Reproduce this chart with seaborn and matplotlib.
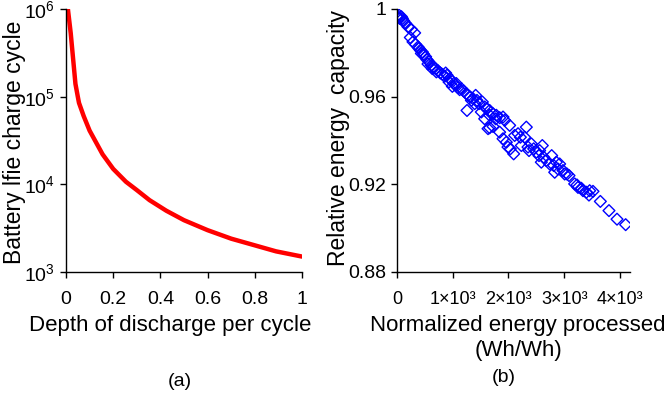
import numpy as np
import pandas as pd
import seaborn as sns
import matplotlib.pyplot as plt

# (a) cycle life vs depth of discharge
dod = [0.008, 0.02, 0.04, 0.05, 0.055, 0.075, 0.1, 0.155, 0.2, 0.254, 0.3, 0.354,
       0.425, 0.5, 0.6, 0.7, 0.79, 0.89, 1.0]
cycles = [1.0e6, 5.3e5, 1.4e5, 1.0e5, 8.5e4, 6.0e4, 4.1e4, 2.2e4, 1.5e4, 1.07e4, 8.6e3, 6.6e3,
          5.0e3, 3.9e3, 3.0e3, 2.4e3, 2.05e3, 1.72e3, 1.5e3]

# (b) relative capacity vs normalized energy processed
energy = [5, 10, 36, 78, 96, 120, 155, 197, 257, 317, 239, 287, 335, 377, 419, 454, 478, 514,
          538, 574, 616, 646, 694, 736, 777, 813, 855, 897, 945, 933, 975, 1017, 1052, 1094,
          1124, 1154, 1196, 1244, 1274, 1316, 1363, 1411, 1435, 1471, 1531, 1573, 1615, 1662,
          1722, 1782, 1842, 1902, 1932, 1256, 1513, 1573, 1633, 1662, 1722, 1842, 1902, 1961,
          1991, 2033, 2093, 2021, 2171, 2111, 2213, 2320, 2290, 2350, 2410, 2452, 2500, 2559,
          2607, 2547, 2631, 2679, 2739, 2775, 2811, 2829, 2858, 2918, 2888, 2978, 3050, 3086,
          3187, 3229, 3307, 3337, 3397, 3444, 3516, 3648, 3803, 3947, 4102,
          48, 138, 395, 437, 556, 634, 706, 873, 993, 1064, 1334, 1393, 1662, 1770, 2231, 2368,
          2589, 3008, 3247, 3456]
capacity = [0.9962, 0.9968, 0.9972, 0.9965, 0.9957, 0.9946, 0.9934, 0.9919, 0.9907, 0.9891,
            0.9870, 0.9850, 0.9838, 0.9827, 0.9812, 0.9804, 0.9794, 0.9782, 0.9769, 0.9759,
            0.9743, 0.9736, 0.9728, 0.9718, 0.9708, 0.9702, 0.9693, 0.9698, 0.9682, 0.9667,
            0.9675, 0.9660, 0.9652, 0.9641, 0.9632, 0.9637, 0.9626, 0.9614, 0.9606, 0.9598,
            0.9591, 0.9606, 0.9583, 0.9568, 0.9576, 0.9553, 0.9545, 0.9537, 0.9522, 0.9515,
            0.9504, 0.9507, 0.9492, 0.9537, 0.9530, 0.9499, 0.9454, 0.9458, 0.9464, 0.9438,
            0.9408, 0.9392, 0.9370, 0.9362, 0.9339, 0.9469, 0.9431, 0.9423, 0.9415, 0.9461,
            0.9415, 0.9370, 0.9385, 0.9362, 0.9347, 0.9354, 0.9377, 0.9331, 0.9324, 0.9309,
            0.9293, 0.9331, 0.9286, 0.9255, 0.9301, 0.9293, 0.9270, 0.9263, 0.9247, 0.9240,
            0.9202, 0.9197, 0.9182, 0.9171, 0.9164, 0.9151, 0.9168, 0.9122, 0.9080, 0.9041,
            0.9016,
            0.9957, 0.9937, 0.9820, 0.9797, 0.9749, 0.9728, 0.9713, 0.9708, 0.9647, 0.9660,
            0.9583, 0.9568, 0.9515, 0.9499, 0.9377, 0.9354, 0.9301, 0.9247, 0.9186, 0.9171]

x_ticklabels = ['0', '1×10³', '2×10³', '3×10³', '4×10³']

sns.set_style('ticks')
plt.rcParams['font.family'] = ['Liberation Sans', 'DejaVu Sans']
plt.rcParams['mathtext.fontset'] = 'custom'
plt.rcParams['mathtext.rm'] = 'Liberation Sans'
plt.rcParams['mathtext.it'] = 'Liberation Sans'
plt.rcParams['text.color'] = 'black'
plt.rcParams['axes.labelcolor'] = 'black'

fig = plt.figure(figsize=(6.68, 3.96), dpi=100)
ax1 = fig.add_axes([66 / 668, 1 - 272 / 396, 236 / 668, 263 / 396])
ax2 = fig.add_axes([397 / 668, 1 - 272 / 396, 233 / 668, 263 / 396])

df_a = pd.DataFrame({'dod': dod, 'cycles': cycles})
sns.lineplot(data=df_a, x='dod', y='cycles', ax=ax1, color='#ff0000', linewidth=3.2)
ax1.set_yscale('log')
ax1.set_xlim(0, 1)
ax1.set_ylim(1e3, 1e6)
ax1.set_yticks([1e3, 1e4, 1e5, 1e6])
ax1.minorticks_off()
ax1.set_xticks([0, 0.2, 0.4, 0.6, 0.8, 1])
ax1.set_xticklabels(['0', '0.2', '0.4', '0.6', '0.8', '1'])
ax1.set_xlabel('Depth of discharge per cycle', fontsize=16)
ax1.set_ylabel('Battery lfie charge cycle', fontsize=16.5)
ax1.xaxis.set_label_coords(0.44, -0.165)
ax1.yaxis.set_label_coords(-0.17, 0.494)

df_b = pd.DataFrame({'energy': energy, 'capacity': capacity})
sns.scatterplot(data=df_b, x='energy', y='capacity', ax=ax2, marker='D', s=36,
                facecolor='none', edgecolor='#0000ff', linewidth=1.0)
ax2.set_xlim(0, 4180)
ax2.set_ylim(0.88, 1.0)
ax2.set_xticks([0, 1000, 2000, 3000, 4000])
ax2.set_xticklabels(x_ticklabels)
ax2.set_yticks([0.88, 0.92, 0.96, 1.0])
ax2.set_yticklabels(['0.88', '0.92', '0.96', '1'])
ax2.set_xlabel('Normalized energy processed\n(Wh/Wh)', fontsize=16, linespacing=1.2)
ax2.set_ylabel('Relative energy  capacity', fontsize=16.5)
ax2.xaxis.set_label_coords(0.52, -0.165)
ax2.yaxis.set_label_coords(-0.2, 0.51)

for ax in (ax1, ax2):
    sns.despine(ax=ax)
    for sp in ax.spines.values():
        sp.set_linewidth(1.0)
        sp.set_color('black')
    ax.tick_params(axis='both', direction='out', length=4, width=1, colors='black',
                   labelsize=14, pad=4)
    ax.tick_params(axis='x', pad=10)
    ax.grid(False)
ax2.tick_params(axis='x', labelsize=13)

fig.text(180 / 668, 1 - 381 / 396, '(a)', fontsize=14, ha='center', va='center')
fig.text(504 / 668, 1 - 378 / 396, '(b)', fontsize=14, ha='center', va='center')

fig.savefig('out.png', dpi=100)
